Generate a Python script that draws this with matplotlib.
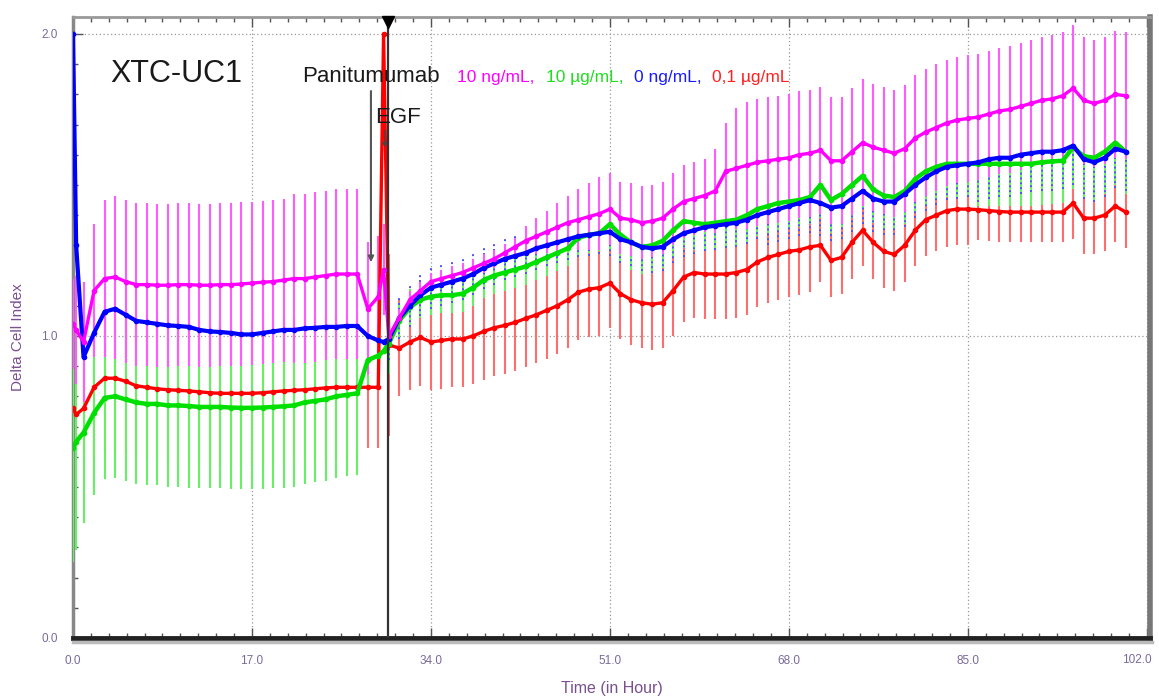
import numpy as np
import matplotlib
from matplotlib import pyplot as plt
from matplotlib.lines import Line2D
from matplotlib.ticker import MultipleLocator, FormatStrFormatter, FuncFormatter

matplotlib.use('Agg')
plt.rcParams['font.family'] = ['Liberation Sans', 'DejaVu Sans']

# tiempos de medida (horas); 29.5 = punto justo antes de añadir EGF
hours = [0, 0.3] + list(range(1, 30)) + [29.5] + list(range(30, 101))

# Panitumumab 10 ng/mL (magenta)
magenta_mean = [1.04, 1.02,
                0.98, 1.15, 1.19, 1.195, 1.18, 1.17, 1.17, 1.168, 1.168, 1.17,
                1.17, 1.168, 1.168, 1.17, 1.17, 1.172, 1.175, 1.178, 1.18, 1.185,
                1.19, 1.19, 1.195, 1.20, 1.205, 1.205, 1.205, 1.09, 1.13,
                1.22,
                1.00, 1.06, 1.12, 1.15, 1.18, 1.19, 1.20, 1.21, 1.225, 1.24,
                1.255, 1.275, 1.295, 1.315, 1.33, 1.345, 1.36, 1.375, 1.385, 1.395,
                1.405, 1.42, 1.39, 1.385, 1.375, 1.38, 1.39, 1.42, 1.445, 1.455,
                1.465, 1.48, 1.545, 1.555, 1.565, 1.575, 1.58, 1.585, 1.59, 1.60,
                1.605, 1.615, 1.58, 1.58, 1.61, 1.64, 1.625, 1.615, 1.605, 1.62,
                1.655, 1.675, 1.69, 1.705, 1.715, 1.72, 1.725, 1.735, 1.745, 1.75,
                1.76, 1.77, 1.78, 1.785, 1.795, 1.82, 1.78, 1.77, 1.78, 1.80,
                1.795]
magenta_sd = [0.15, 0.18,
              0.20, 0.22, 0.26, 0.27, 0.27, 0.27, 0.27, 0.27, 0.27, 0.27,
              0.27, 0.27, 0.27, 0.27, 0.27, 0.27, 0.27, 0.27, 0.27, 0.27,
              0.28, 0.28, 0.28, 0.28, 0.28, 0.28, 0.28, 0.22, 0.20,
              0.15,
              0.04, 0.03, 0.03, 0.03, 0.03, 0.03, 0.03, 0.03, 0.03, 0.03,
              0.03, 0.03, 0.03, 0.05, 0.06, 0.07, 0.08, 0.09, 0.10, 0.11,
              0.12, 0.12, 0.12, 0.12, 0.12, 0.12, 0.12, 0.12, 0.12, 0.12,
              0.12, 0.14, 0.16, 0.20, 0.21, 0.21, 0.21, 0.21, 0.21, 0.21,
              0.21, 0.21, 0.21, 0.21, 0.21, 0.21, 0.21, 0.21, 0.21, 0.21,
              0.21, 0.21, 0.21, 0.21, 0.21, 0.21, 0.21, 0.21, 0.21, 0.21,
              0.21, 0.21, 0.21, 0.21, 0.21, 0.21, 0.21, 0.21, 0.21, 0.21,
              0.21]

# Panitumumab 0 ng/mL (azul)
blue_mean = [2.00, 1.30,
             0.93, 1.01, 1.08, 1.09, 1.07, 1.05, 1.045, 1.04, 1.035, 1.033,
             1.03, 1.02, 1.015, 1.013, 1.01, 1.005, 1.005, 1.01, 1.015, 1.02,
             1.02, 1.025, 1.027, 1.03, 1.03, 1.033, 1.033, 1.00, 0.985,
             0.98,
             0.99, 1.06, 1.10, 1.135, 1.16, 1.17, 1.18, 1.19, 1.205, 1.225,
             1.24, 1.255, 1.265, 1.275, 1.29, 1.30, 1.31, 1.32, 1.33, 1.335,
             1.34, 1.345, 1.32, 1.31, 1.295, 1.29, 1.295, 1.32, 1.34, 1.35,
             1.36, 1.365, 1.37, 1.375, 1.385, 1.40, 1.41, 1.42, 1.43, 1.44,
             1.45, 1.44, 1.425, 1.43, 1.455, 1.48, 1.455, 1.445, 1.445, 1.47,
             1.50, 1.525, 1.545, 1.56, 1.565, 1.57, 1.575, 1.585, 1.59, 1.59,
             1.60, 1.605, 1.61, 1.61, 1.615, 1.63, 1.585, 1.575, 1.59, 1.62,
             1.61]
blue_sd = [0.0, 0.0,
           0.05, 0.04, 0.04, 0.04, 0.04, 0.04, 0.04, 0.04, 0.04, 0.04,
           0.04, 0.04, 0.04, 0.04, 0.04, 0.04, 0.04, 0.04, 0.04, 0.04,
           0.04, 0.04, 0.04, 0.04, 0.04, 0.04, 0.04, 0.04, 0.04,
           0.0,
           0.07, 0.07, 0.07, 0.07, 0.07, 0.07, 0.07, 0.07, 0.07, 0.07,
           0.07, 0.07, 0.07, 0.07, 0.07, 0.07, 0.07, 0.07, 0.07, 0.07,
           0.07, 0.08, 0.08, 0.08, 0.08, 0.08, 0.08, 0.08, 0.08, 0.08,
           0.08, 0.08, 0.08, 0.08, 0.08, 0.08, 0.11, 0.11, 0.11, 0.11,
           0.11, 0.11, 0.11, 0.11, 0.11, 0.11, 0.11, 0.11, 0.11, 0.11,
           0.11, 0.11, 0.11, 0.11, 0.11, 0.11, 0.13, 0.13, 0.13, 0.13,
           0.13, 0.13, 0.13, 0.13, 0.13, 0.13, 0.13, 0.13, 0.13, 0.13,
           0.13]

# Panitumumab 10 µg/mL (verde)
green_mean = [0.63, 0.65,
              0.68, 0.745, 0.795, 0.80, 0.79, 0.78, 0.775, 0.775, 0.77, 0.77,
              0.768, 0.765, 0.765, 0.765, 0.763, 0.762, 0.762, 0.763, 0.765, 0.767,
              0.77, 0.78, 0.785, 0.79, 0.80, 0.805, 0.81, 0.92, 0.935,
              0.95,
              0.975, 1.05, 1.095, 1.12, 1.13, 1.135, 1.135, 1.14, 1.16, 1.185,
              1.20, 1.21, 1.22, 1.23, 1.245, 1.26, 1.275, 1.29, 1.325, 1.335,
              1.34, 1.37, 1.335, 1.31, 1.295, 1.30, 1.315, 1.35, 1.38, 1.375,
              1.37, 1.375, 1.38, 1.385, 1.40, 1.42, 1.43, 1.44, 1.445, 1.45,
              1.46, 1.50, 1.45, 1.47, 1.50, 1.53, 1.485, 1.465, 1.46, 1.48,
              1.52, 1.545, 1.56, 1.57, 1.57, 1.57, 1.57, 1.57, 1.57, 1.57,
              1.57, 1.57, 1.575, 1.578, 1.58, 1.625, 1.595, 1.59, 1.61, 1.64,
              1.61]
green_sd = [0.38, 0.36,
            0.30, 0.27, 0.27, 0.27, 0.27, 0.27, 0.27, 0.27, 0.27, 0.27,
            0.27, 0.27, 0.27, 0.27, 0.27, 0.27, 0.27, 0.27, 0.27, 0.27,
            0.27, 0.27, 0.27, 0.27, 0.27, 0.27, 0.27, 0.10, 0.10,
            0.0,
            0.10, 0.06, 0.06, 0.06, 0.06, 0.06, 0.06, 0.06, 0.06, 0.06,
            0.06, 0.06, 0.06, 0.06, 0.06, 0.06, 0.06, 0.06, 0.06, 0.06,
            0.06, 0.09, 0.09, 0.09, 0.09, 0.09, 0.09, 0.09, 0.09, 0.09,
            0.09, 0.09, 0.09, 0.09, 0.09, 0.09, 0.09, 0.09, 0.09, 0.09,
            0.09, 0.11, 0.11, 0.11, 0.11, 0.11, 0.11, 0.11, 0.11, 0.11,
            0.11, 0.11, 0.11, 0.11, 0.11, 0.11, 0.14, 0.14, 0.14, 0.14,
            0.14, 0.14, 0.14, 0.14, 0.14, 0.14, 0.14, 0.14, 0.14, 0.14,
            0.14]

# Panitumumab 0,1 µg/mL (rojo)
red_mean = [0.76, 0.74,
            0.76, 0.83, 0.86, 0.86, 0.85, 0.835, 0.83, 0.825, 0.822, 0.82,
            0.818, 0.815, 0.812, 0.81, 0.81, 0.81, 0.81, 0.812, 0.815, 0.818,
            0.82, 0.822, 0.825, 0.828, 0.83, 0.83, 0.83, 0.83, 0.83,
            2.00,
            0.97, 0.96, 0.98, 0.995, 0.98, 0.985, 0.99, 0.99, 1.00, 1.015,
            1.027, 1.035, 1.045, 1.058, 1.07, 1.085, 1.10, 1.12, 1.145, 1.155,
            1.16, 1.175, 1.14, 1.12, 1.11, 1.105, 1.11, 1.15, 1.195, 1.21,
            1.205, 1.205, 1.205, 1.21, 1.22, 1.245, 1.26, 1.27, 1.28, 1.285,
            1.295, 1.30, 1.25, 1.26, 1.31, 1.35, 1.31, 1.28, 1.27, 1.30,
            1.35, 1.385, 1.40, 1.415, 1.42, 1.42, 1.418, 1.415, 1.412, 1.41,
            1.41, 1.41, 1.41, 1.41, 1.41, 1.44, 1.39, 1.39, 1.40, 1.43,
            1.41]
red_sd = [0.10, 0.12,
          0.15, 0.24, 0.24, 0.24, 0.24, 0.24, 0.24, 0.24, 0.24, 0.24,
          0.24, 0.24, 0.24, 0.24, 0.24, 0.24, 0.24, 0.24, 0.24, 0.24,
          0.24, 0.24, 0.24, 0.24, 0.24, 0.24, 0.24, 0.20, 0.20,
          0.0,
          0.30, 0.16, 0.16, 0.16, 0.16, 0.16, 0.16, 0.16, 0.16, 0.16,
          0.16, 0.16, 0.16, 0.16, 0.16, 0.16, 0.16, 0.16, 0.16, 0.16,
          0.16, 0.15, 0.15, 0.15, 0.15, 0.15, 0.15, 0.15, 0.15, 0.15,
          0.15, 0.15, 0.15, 0.15, 0.15, 0.15, 0.15, 0.15, 0.15, 0.15,
          0.15, 0.12, 0.12, 0.12, 0.12, 0.12, 0.12, 0.12, 0.12, 0.12,
          0.12, 0.12, 0.12, 0.12, 0.12, 0.12, 0.10, 0.10, 0.10, 0.10,
          0.10, 0.10, 0.10, 0.10, 0.10, 0.12, 0.12, 0.12, 0.12, 0.12,
          0.12]

dose_labels = ['10 ng/mL,', '10 µg/mL,', '0 ng/mL,', '0,1 µg/mL']
dose_colors = ['#ff00ff', '#22dd22', '#1a1aff', '#ff2020']

TICK_LABEL_COLOR = '#7a6a9a'

fig = plt.figure(figsize=(11.59, 6.97), dpi=100)
ax = fig.add_axes([73 / 1159, 59 / 697, 1077 / 1159, 621 / 697])

# orden de dibujo: barras rojas, verdes, azules, magenta; luego las curvas
bars = [
    (red_mean, red_sd, '#ff6e6e', 'solid', 1.5, 2),
    (green_mean, green_sd, '#66f066', 'solid', 1.5, 3),
    (blue_mean, blue_sd, '#5050ff', (0, (1, 1.5)), 1.4, 4),
    (magenta_mean, magenta_sd, '#ff5cff', 'solid', 1.5, 5),
]
t = np.array(hours)
for mean, sd, color, ls, lw, z in bars:
    mean = np.array(mean)
    sd = np.array(sd)
    keep = sd > 0
    ax.vlines(t[keep], mean[keep] - sd[keep], mean[keep] + sd[keep],
              colors=color, linestyles=ls, lw=lw, zorder=z)

curves = [
    (red_mean, '#ff0000', 2.4, 6),
    (green_mean, '#00e000', 3.2, 7),
    (blue_mean, '#0000ff', 3.0, 8),
    (magenta_mean, '#ff00ff', 2.4, 9),
]
for mean, color, lw, z in curves:
    ax.plot(hours, mean, color=color, lw=lw, marker='o', ms=3,
            solid_joinstyle='round', zorder=z)

# linea de adicion de EGF
ax.axvline(29.9, color='#333333', lw=1.6, zorder=10)
ax.plot(29.9, 2.04, marker='v', color='black', ms=8, clip_on=False, zorder=11)

ax.text(3.5, 1.841, 'XTC-UC1', fontsize=22, color='#1a1a1a', zorder=12)
pan = ax.text(21.8, 1.841, 'Panitumumab', fontsize=16, color='#1a1a1a', zorder=12)
ax.text(28.7, 1.705, 'EGF', fontsize=16, color='#1a1a1a', zorder=12)

renderer = fig.canvas.get_renderer()
x0 = pan.get_window_extent(renderer).x1 + 6
for label, color in zip(dose_labels, dose_colors):
    xd = ax.transData.inverted().transform((x0, 0))[0]
    txt = ax.text(xd, 1.841, label, fontsize=12.5, color=color, zorder=12)
    x0 = txt.get_window_extent(renderer).x1 + 5

ax.annotate('', xy=(28.3, 1.235), xytext=(28.3, 1.82),
            arrowprops=dict(arrowstyle='-|>', color='#555555', lw=1.5,
                            mutation_scale=8), zorder=10)
ax.annotate('', xy=(29.6, 1.615), xytext=(29.6, 1.69),
            arrowprops=dict(arrowstyle='-|>', color='#444444', lw=1.0,
                            mutation_scale=6), zorder=10)

ax.set_xlim(0, 102.3)
ax.set_ylim(0, 2.056)
ax.xaxis.set_major_locator(MultipleLocator(17))
ax.xaxis.set_minor_locator(MultipleLocator(1.7))
ax.yaxis.set_major_locator(MultipleLocator(1.0))
ax.yaxis.set_minor_locator(MultipleLocator(0.1))
# la etiqueta 102.0 se pone aparte, alineada a la derecha, para que no se corte
ax.xaxis.set_major_formatter(FuncFormatter(lambda v, p: '' if v > 100 else f'{v:.1f}'))
ax.yaxis.set_major_formatter(FormatStrFormatter('%.1f'))
fig.text(1152 / 1159, 1 - 660 / 697, '102.0', ha='right', va='center',
         fontsize=8.5, color=TICK_LABEL_COLOR)

ax.tick_params(axis='x', which='both', direction='in', top=True, colors='#555555',
               labelcolor=TICK_LABEL_COLOR, labelsize=8.5, pad=12)
ax.tick_params(axis='y', which='both', direction='in', colors='#555555',
               labelcolor=TICK_LABEL_COLOR, labelsize=8.5, pad=11)
ax.tick_params(which='major', length=7, width=1)
ax.tick_params(which='minor', length=3.5, width=1)

ax.grid(True, which='major', color='#999999', linestyle=(0, (1, 2)), lw=0.9, zorder=0)
ax.set_axisbelow(True)

ax.spines['left'].set_color('#888888')
ax.spines['left'].set_linewidth(2.5)
ax.spines['bottom'].set_color('#222222')
ax.spines['bottom'].set_linewidth(3.5)
ax.spines['right'].set_color('#777777')
ax.spines['right'].set_linewidth(4)
ax.spines['top'].set_color('#999999')
ax.spines['top'].set_linewidth(2)

# sombra bajo el eje x
fig.add_artist(Line2D([73 / 1159, 1152 / 1159], [55 / 697, 55 / 697],
                      color='#bbbbbb', lw=2.5))

fig.text(18 / 1159, 1 - 337 / 697, 'Delta Cell Index', rotation=90, fontsize=11,
         color='#7a4f8f', ha='center', va='center')
fig.text(612 / 1159, 1 - 688 / 697, 'Time (in Hour)', fontsize=11.5,
         color='#7a4f8f', ha='center', va='center')

plt.savefig('out.png', dpi=100)
plt.close()
